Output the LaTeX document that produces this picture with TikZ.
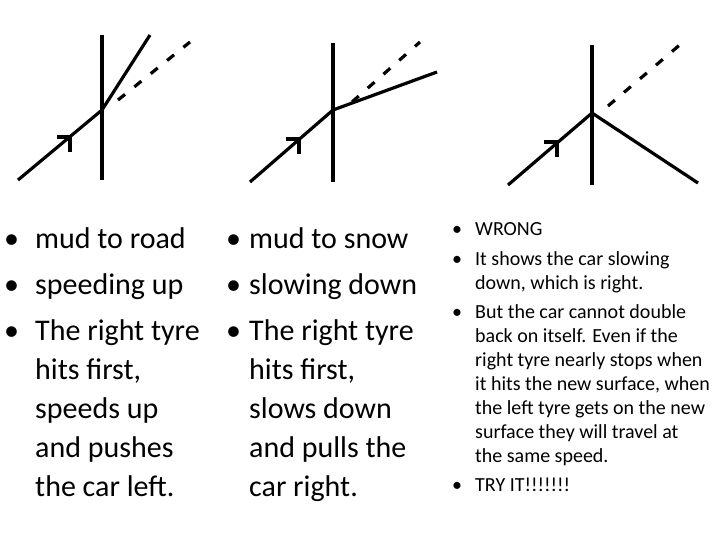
\documentclass[tikz,border=0pt]{standalone}
\usepackage{fontspec}
\setmainfont{Carlito}
\begin{document}
\begin{tikzpicture}[x=1pt,y=-1pt,
  ln/.style={line width=3.2pt},
  dsh/.style={line width=3.2pt,dash pattern=on 9pt off 12pt},
  big/.style={anchor=base west,inner sep=0pt,font=\fontsize{30}{34}\selectfont},
  sm/.style={anchor=base west,inner sep=0pt,font=\fontsize{20}{24}\selectfont}]
\useasboundingbox (0,0) rectangle (720,540);
% diagram 1
\coordinate (a1) at (102,35); \coordinate (b1) at (102,180);
\coordinate (p1) at (102,110); \coordinate (s1) at (18,180);
\coordinate (r1) at (150,35); \coordinate (d1a) at (118,100); \coordinate (d1b) at (190,42);
\draw[ln] (a1)--(b1); \draw[ln] (s1)--(p1)--(r1); \draw[dsh] (d1a)--(d1b);
\coordinate (h1) at (70,137);
\draw[ln] ([xshift=-13pt]h1)--(h1)--([yshift=-15pt]h1);
% diagram 2
\coordinate (a2) at (333,43); \coordinate (b2) at (333,182);
\coordinate (p2) at (333,110); \coordinate (s2) at (250,182);
\coordinate (r2) at (437,72); \coordinate (d2a) at (352,102); \coordinate (d2b) at (420,42);
\draw[ln] (a2)--(b2); \draw[ln] (s2)--(p2)--(r2); \draw[dsh] (d2a)--(d2b);
\coordinate (h2) at (299,139);
\draw[ln] ([xshift=-13pt]h2)--(h2)--([yshift=-15pt]h2);
% diagram 3
\coordinate (a3) at (592,45); \coordinate (b3) at (592,185);
\coordinate (p3) at (592,113); \coordinate (s3) at (508,185);
\coordinate (r3) at (698,183); \coordinate (d3a) at (608,106); \coordinate (d3b) at (682,43);
\draw[ln] (a3)--(b3); \draw[ln] (s3)--(p3)--(r3); \draw[dsh] (d3a)--(d3b);
\coordinate (h3) at (557,142);
\draw[ln] ([xshift=-13pt]h3)--(h3)--([yshift=-15pt]h3);
% column 1
\node[big] (c1a) at (4,248) {•}; \node[big] (t1a) at (35,248) {mud to road};
\node[big] (c1b) at (4,294) {•}; \node[big] (t1b) at (35,294) {speeding up};
\node[big] (c1c) at (4,340) {•}; \node[big] (t1c) at (35,340) {The right tyre};
\node[big] (t1d) at (35,379) {hits first,};
\node[big] (t1e) at (35,418) {speeds up};
\node[big] (t1f) at (35,457) {and pushes};
\node[big] (t1g) at (35,496) {the car left.};
% column 2
\node[big] (c2a) at (226,248) {•}; \node[big] (t2a) at (249,248) {mud to snow};
\node[big] (c2b) at (226,294) {•}; \node[big] (t2b) at (249,294) {slowing down};
\node[big] (c2c) at (226,340) {•}; \node[big] (t2c) at (249,340) {The right tyre};
\node[big] (t2d) at (249,379) {hits first,};
\node[big] (t2e) at (249,418) {slows down};
\node[big] (t2f) at (249,457) {and pulls the};
\node[big] (t2g) at (249,496) {car right.};
% column 3
\node[sm] (c3a) at (452,236) {•}; \node[sm] (t3a) at (475,236) {WRONG};
\node[sm] (c3b) at (452,265) {•}; \node[sm] (t3b) at (475,265) {It shows the car slowing};
\node[sm] (t3c) at (475,289) {down, which is right.};
\node[sm] (c3d) at (452,318) {•}; \node[sm] (t3d) at (475,318) {But the car cannot double};
\node[sm] (t3e) at (475,342) {back on itself. Even if the};
\node[sm] (t3f) at (475,366) {right tyre nearly stops when};
\node[sm] (t3g) at (475,390) {it hits the new surface, when};
\node[sm] (t3h) at (475,414) {the left tyre gets on the new};
\node[sm] (t3i) at (475,438) {surface they will travel at};
\node[sm] (t3j) at (475,462) {the same speed.};
\node[sm] (c3k) at (452,491) {•}; \node[sm] (t3k) at (475,491) {TRY IT!!!!!!!};
\end{tikzpicture}
\end{document}
